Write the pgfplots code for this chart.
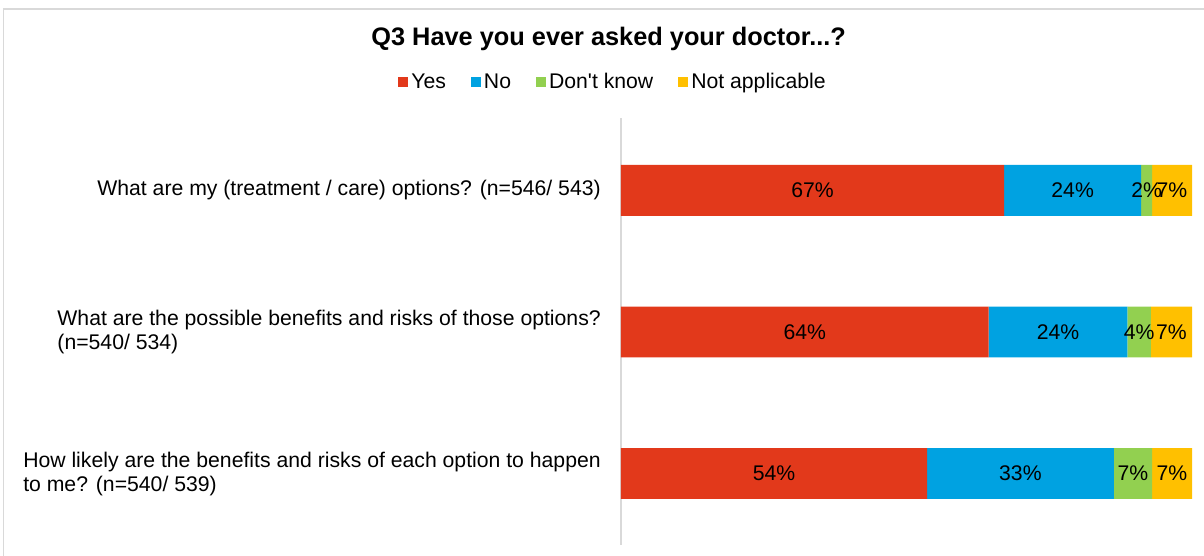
\documentclass[border=0pt]{standalone}
\usepackage{pgfplots}
\pgfplotsset{compat=1.18}
\usepackage{fontspec}
\setmainfont{Liberation Sans}
\definecolor{cyes}{HTML}{E2391B}
\definecolor{cno}{HTML}{00A2E1}
\definecolor{cdk}{HTML}{92D050}
\definecolor{cna}{HTML}{FFC000}
\definecolor{cline}{HTML}{D9D9D9}
\newcommand{\lf}{\fontsize{15.9}{18}\selectfont}

\pgfplotstableread{
y v l
2 67.1 67\%
1 64.4 64\%
0 53.6 54\%
}\yes
\pgfplotstableread{
y v l
2 24.0 24\%
1 24.3 24\%
0 32.7 33\%
}\no
\pgfplotstableread{
y v l
2 1.9 2\%
1 4.1 4\%
0 6.7 7\%
}\dk
\pgfplotstableread{
y v l
2 7.0 7\%
1 7.2 7\%
0 7.0 7\%
}\na

\begin{document}
\begin{tikzpicture}
\path[use as bounding box] (0,0) rectangle (903pt,417pt);
\draw[cline, line width=0.8pt] (2.6pt,0) -- (2.6pt,410.25pt) -- (903pt,410.25pt);
\node[font=\fontsize{19}{22}\selectfont\bfseries, anchor=base] at (456.5pt,382.5pt) {Q3 Have you ever asked your doctor...?};
\begin{axis}[
  at={(465.75pt,8.25pt)}, anchor=south west,
  scale only axis, width=428.25pt, height=320.25pt,
  xbar stacked, bar width=0.36,
  xmin=0, xmax=100, ymin=-0.505, ymax=2.512,
  axis x line=none,
  axis y line*=left,
  y axis line style={draw=cline, line width=0.8pt},
  ytick={0,1,2}, major tick length=0pt,
  yticklabels={{How likely are the benefits and risks of each option to happen\\to me? (n=540/ 539)},
               {What are the possible benefits and risks of those options?\\(n=540/ 534)},
               {What are my (treatment / care) options? (n=546/ 543)}},
  yticklabel style={align=left, font=\lf, inner sep=0pt, xshift=-15pt},
  point meta=explicit symbolic,
  nodes near coords,
  nodes near coords style={font=\lf, text=black},
  every node near coord/.append style={anchor=center},
  legend columns=4,
  legend style={at={(-0.0131,1.0843)}, anchor=center, draw=none, font=\lf,
    /tikz/every even column/.append style={column sep=16pt},
    nodes={inner sep=2.5pt}},
  legend image code/.code={\fill[#1] (0pt,-3.75pt) rectangle (7.5pt,3.75pt);},
]
\addplot[fill=cyes, draw=none] table[x=v, y=y, meta=l] {\yes};
\addplot[fill=cno, draw=none] table[x=v, y=y, meta=l] {\no};
\addplot[fill=cdk, draw=none] table[x=v, y=y, meta=l] {\dk};
\addplot[fill=cna, draw=none] table[x=v, y=y, meta=l] {\na};
\legend{Yes, No, Don\textquotesingle t know, Not applicable}
\end{axis}
\end{tikzpicture}
\end{document}
